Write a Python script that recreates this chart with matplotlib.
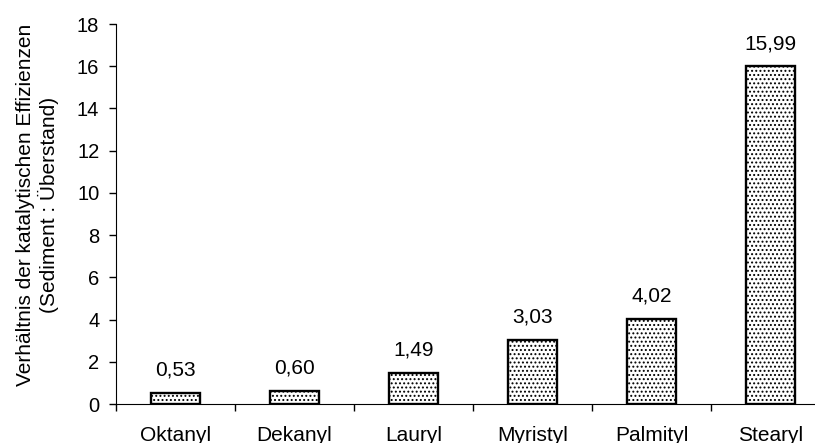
import numpy as np
import matplotlib
matplotlib.use('Agg')
import matplotlib.pyplot as plt

plt.rcParams['font.family'] = ['Liberation Sans', 'DejaVu Sans']
plt.rcParams['hatch.linewidth'] = 0.9

# data
categories = ['Oktanyl', 'Dekanyl', 'Lauryl', 'Myristyl', 'Palmityl', 'Stearyl']
values = [0.53, 0.60, 1.49, 3.03, 4.02, 15.99]
value_labels = ['0,53', '0,60', '1,49', '3,03', '4,02', '15,99']
yticks = [0, 2, 4, 6, 8, 10, 12, 14, 16, 18]

fig = plt.figure(figsize=(8.15, 4.43), dpi=100)
ax = fig.add_axes([116/815, 39/443, 714/815, 380/443])

x = np.arange(len(categories))
bars = ax.bar(x, values, width=0.41, color='white', edgecolor='black',
              linewidth=1.7, hatch='....')

# value labels above bars
for b, lab in zip(bars, value_labels):
    ax.annotate(lab, (b.get_x() + b.get_width() / 2, b.get_height()),
                xytext=(0, 12.5), textcoords='offset points',
                ha='center', va='baseline', fontsize=15)

ax.set_xlim(-0.5, len(categories) - 0.5)
ax.set_ylim(0, 18)
ax.set_yticks(yticks)
ax.set_yticklabels([str(t) for t in yticks], fontsize=14.5)

ax.set_xticks(x)
ax.set_xticklabels(categories, fontsize=15)
ax.tick_params(axis='x', which='major', length=0, pad=16)
ax.set_xticks(np.arange(-0.5, len(categories)), minor=True)
ax.tick_params(axis='x', which='minor', length=5, width=1, direction='out')
ax.tick_params(axis='y', length=5, width=1, direction='out', pad=7)

ax.spines['top'].set_visible(False)
ax.spines['right'].set_visible(False)

fig.text(37.5/815, (443 - 205)/443,
         'Verhältnis der katalytischen Effizienzen\n(Sediment : Überstand)',
         rotation=90, ha='center', va='center', multialignment='center',
         fontsize=15, linespacing=1.15)

fig.savefig('out.png', dpi=100)
